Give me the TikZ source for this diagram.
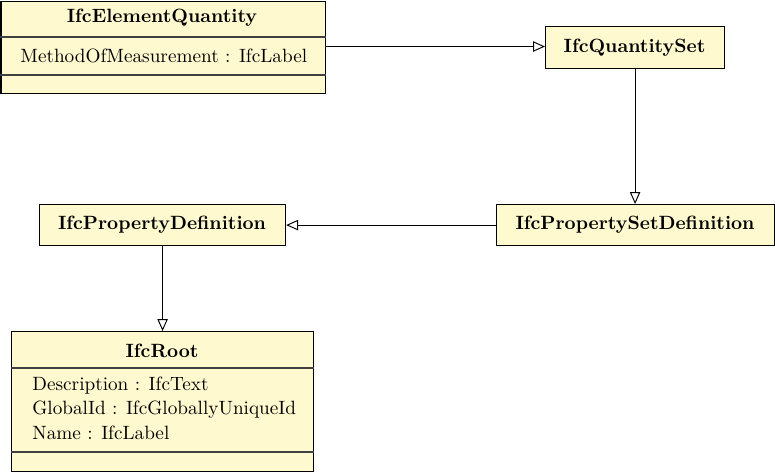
\documentclass[tikz,border=0pt]{standalone}
\usetikzlibrary{arrows.meta}
\definecolor{clsfill}{HTML}{FFF9D0}
\begin{document}
\begin{tikzpicture}[x=0.52pt,y=-0.52pt,
  cls/.style={draw=black, fill=clsfill, line width=0.6pt, inner sep=0pt, anchor=north west},
  title/.style={font=\bfseries, inner sep=0pt},
  attr/.style={inner sep=0pt, anchor=west},
  divider/.style={draw=black!75, line width=0.55pt},
  gen/.style={draw=black, line width=0.5pt, -{Triangle[open, length=6.2pt, width=5.4pt]}}
]
\useasboundingbox (0,0) rectangle (775,472);

% IfcElementQuantity
\node[cls, minimum width={324.5*0.52pt}, minimum height={92.5*0.52pt}] (eq) at (0.5,0.5) {};
\node[title] (eqt) at (162,18) {IfcElementQuantity};
\draw[divider] (eq.west |- 0,37) -- (eq.east |- 0,37);
\node[attr] (eqa) at (20,55.5) {MethodOfMeasurement : IfcLabel};
\draw[divider] (eq.west |- 0,75) -- (eq.east |- 0,75);

% IfcQuantitySet
\node[cls, minimum width={179*0.52pt}, minimum height={42*0.52pt}] (qs) at (545,26) {};
\node[title] (qst) at (634.5,47.5) {IfcQuantitySet};

% IfcPropertySetDefinition
\node[cls, minimum width={278*0.52pt}, minimum height={41*0.52pt}] (psd) at (496,204) {};
\node[title] (psdt) at (635,225) {IfcPropertySetDefinition};

% IfcPropertyDefinition
\node[cls, minimum width={246*0.52pt}, minimum height={41*0.52pt}] (pd) at (39,204) {};
\node[title] (pdt) at (162,225) {IfcPropertyDefinition};

% IfcRoot
\node[cls, minimum width={302*0.52pt}, minimum height={140*0.52pt}] (root) at (11,331) {};
\node[title] (roott) at (162,351) {IfcRoot};
\draw[divider] (root.west |- 0,368) -- (root.east |- 0,368);
\node[attr] (ra1) at (32,386) {Description : IfcText};
\node[attr] (ra2) at (32,409.5) {GlobalId : IfcGloballyUniqueId};
\node[attr] (ra3) at (32,433) {Name : IfcLabel};
\draw[divider] (root.west |- 0,452) -- (root.east |- 0,452);

% connectors
\draw[gen] (eq.east |- 0,46.5) -- (qs.west |- 0,46.5);
\draw[gen] (qs.south) -- (qs.south |- psd.north);
\draw[gen] (psd.west) -- (pd.east);
\draw[gen] (pd.south) -- (root.north);
\end{tikzpicture}
\end{document}
